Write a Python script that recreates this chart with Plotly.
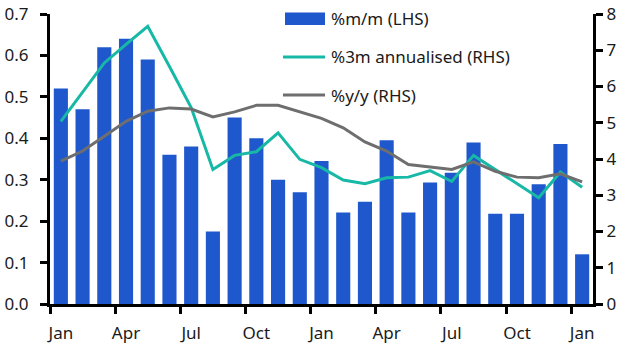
import plotly.graph_objects as go

tick_labels = ["Jan", "Apr", "Jul", "Oct", "Jan", "Apr", "Jul", "Oct", "Jan"]
months = ["Jan", "Feb", "Mar", "Apr", "May", "Jun", "Jul", "Aug", "Sep", "Oct", "Nov", "Dec",
          "Jan", "Feb", "Mar", "Apr", "May", "Jun", "Jul", "Aug", "Sep", "Oct", "Nov", "Dec", "Jan"]
mm = [0.52, 0.47, 0.62, 0.64, 0.59, 0.36, 0.38, 0.175, 0.45, 0.40, 0.30, 0.27,
      0.345, 0.221, 0.247, 0.395, 0.221, 0.293, 0.317, 0.39, 0.218, 0.218, 0.289, 0.386, 0.12]
ann3m = [5.04, 5.84, 6.65, 7.16, 7.66, 6.55, 5.42, 3.71, 4.10, 4.20, 4.72, 3.99,
         3.76, 3.42, 3.32, 3.48, 3.50, 3.68, 3.38, 4.10, 3.71, 3.32, 2.93, 3.64, 3.22]
yy = [3.94, 4.22, 4.63, 5.04, 5.32, 5.41, 5.38, 5.16, 5.30, 5.48, 5.48, 5.29,
      5.12, 4.86, 4.47, 4.22, 3.85, 3.78, 3.71, 3.92, 3.66, 3.50, 3.48, 3.59, 3.37]
series_names = ["%m/m (LHS)", "%3m annualised (RHS)", "%y/y (RHS)"]
colors = ["#1f58cc", "#17b8a6", "#6e6e6e"]

xpos = [i + 0.5 for i in range(len(months))]
label_pos = [i * 3 + 0.5 for i in range(len(tick_labels))]
boundary_ticks = [i * 3 for i in range(len(tick_labels))]

W, H = 631, 349
L, R, T, B = 50, 38, 14, 45
pw, ph = W - L - R, H - T - B


def px(x):
    return (x - L) / pw


def py(y):
    return (H - B - y) / ph


FONT = "Noto Sans"
FS = 17
fig = go.Figure()
fig.add_trace(go.Bar(x=xpos, y=mm, name=series_names[0], marker=dict(color=colors[0], line=dict(width=0)),
                     width=0.65))
fig.add_trace(go.Scatter(x=xpos, y=ann3m, name=series_names[1], mode="lines",
                         line=dict(color=colors[1], width=3), yaxis="y2"))
fig.add_trace(go.Scatter(x=xpos, y=yy, name=series_names[2], mode="lines",
                         line=dict(color=colors[2], width=3), yaxis="y2"))

# manual legend
rows = [18.5, 57, 95]
shapes = [dict(type="rect", xref="paper", yref="paper", x0=px(285), x1=px(325), y0=py(25), y1=py(12.5),
               fillcolor=colors[0], line=dict(width=0))]
for k in (1, 2):
    shapes.append(dict(type="line", xref="paper", yref="paper", x0=px(283), x1=px(325),
                       y0=py(rows[k]), y1=py(rows[k]), line=dict(color=colors[k], width=3)))
annotations = [dict(xref="paper", yref="paper", x=px(329), y=py(rows[k]), text=series_names[k],
                    showarrow=False, xanchor="left", yanchor="middle",
                    font=dict(family=FONT, size=FS, color="#1a1a1a")) for k in range(3)]

axis_common = dict(showgrid=False, showline=True, linecolor="black", linewidth=3, zeroline=False,
                   automargin=False)
fig.update_layout(
    template="none",
    width=W, height=H,
    margin=dict(l=L, r=R, t=T, b=B, pad=0),
    paper_bgcolor="white", plot_bgcolor="white",
    font=dict(family=FONT, size=FS, color="#1a1a1a"),
    showlegend=False,
    shapes=shapes, annotations=annotations,
    xaxis=dict(range=[0, 25], tickvals=label_pos, ticktext=tick_labels, ticks="",
               ticklabelstandoff=12,
               minor=dict(tickvals=boundary_ticks, ticks="outside", ticklen=7, tickwidth=3,
                          tickcolor="black"),
               **axis_common),
    yaxis=dict(range=[0, 0.7], dtick=0.1, tickformat=".1f", ticks="outside", ticklen=7,
               tickwidth=3, tickcolor="black", ticklabelstandoff=8, **axis_common),
    yaxis2=dict(range=[0, 8], dtick=1, overlaying="y", side="right", ticks="outside",
                ticklen=7, tickwidth=3, tickcolor="black", **axis_common),
    bargap=0.35,
)
fig.write_html("out.html")
